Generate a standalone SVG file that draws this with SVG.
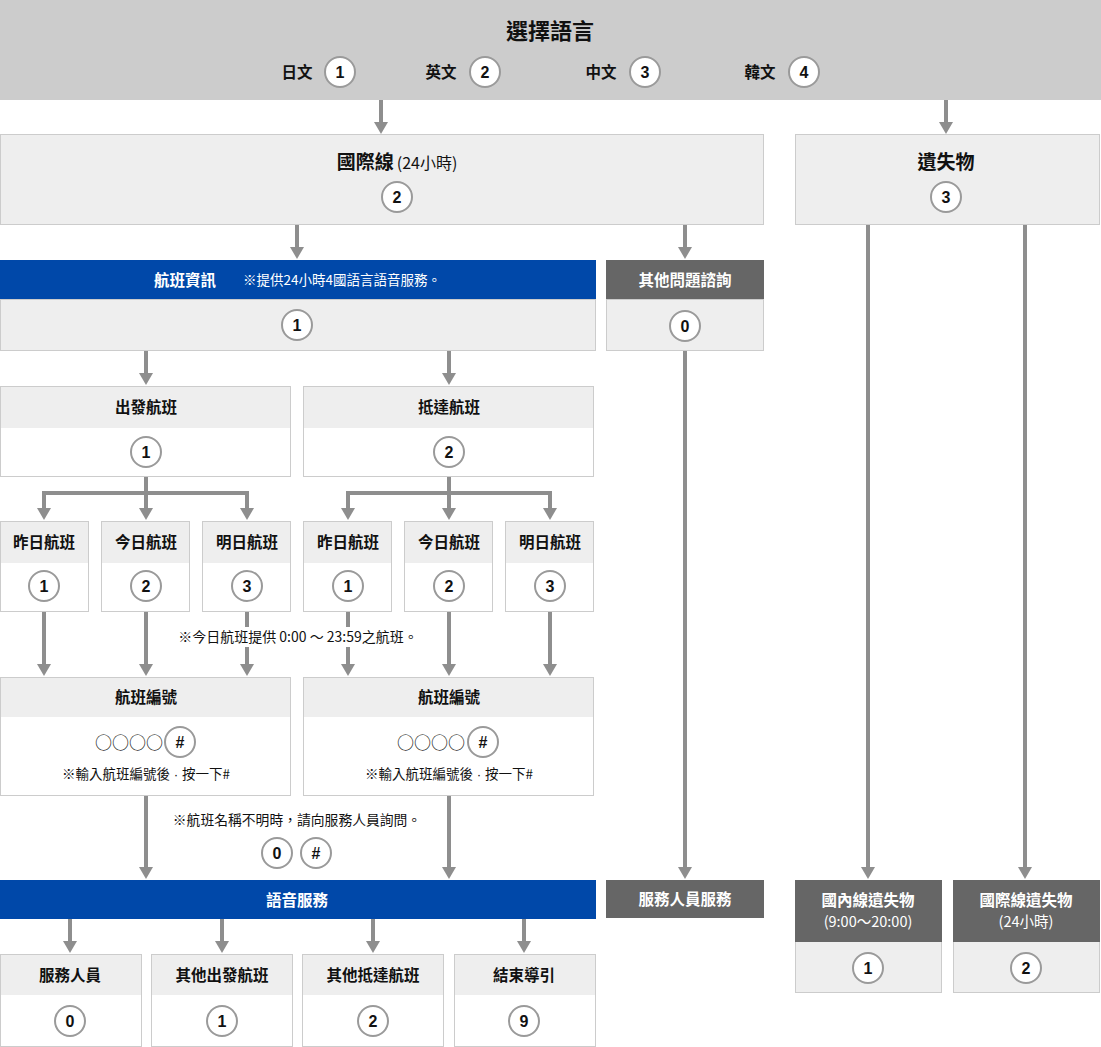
<svg xmlns="http://www.w3.org/2000/svg" width="1101" height="1047" viewBox="0 0 1101 1047">
<defs>
<style>
.t{font-family:"Noto Sans CJK TC","Noto Sans CJK SC",sans-serif;fill:#111;text-anchor:middle}
.b{font-weight:700}
.lbl{font-size:15.5px;font-weight:700}
.wt{fill:#fff}
.box{fill:#eeeeee;stroke:#cccccc;stroke-width:1}
.body{fill:#ffffff;stroke:#cccccc;stroke-width:1}
.hd{fill:#eeeeee}
.blue{fill:#0048a9}
.dark{fill:#666666}
.c{fill:#fff;stroke:#9a9a9a;stroke-width:2}
.num{font-family:"Liberation Sans",Arial,sans-serif;font-weight:700;font-size:16px;fill:#111;text-anchor:middle}
.ln{stroke:#8e8e8e;stroke-width:4;fill:none}
.ar{stroke:#8e8e8e;stroke-width:4;fill:none;marker-end:url(#ah)}
.dot{font-family:"Liberation Sans",Arial,sans-serif}
</style>
<marker id="ah" viewBox="0 0 12 14" refX="0" refY="7" markerWidth="12" markerHeight="14" markerUnits="userSpaceOnUse" orient="auto">
<path d="M0,0 L12,7 L0,14 z" fill="#8e8e8e"/>
</marker>
</defs>
<rect width="1101" height="1047" fill="#fff"/>

<g id="connectors">
<line class="ar" x1="381" y1="100" x2="381" y2="122"/>
<line class="ar" x1="946" y1="100" x2="946" y2="122"/>
<line class="ar" x1="297" y1="225" x2="297" y2="247"/>
<line class="ar" x1="685" y1="225" x2="685" y2="247"/>
<line class="ar" x1="146" y1="351" x2="146" y2="373"/>
<line class="ar" x1="449" y1="351" x2="449" y2="373"/>
<line class="ar" x1="685" y1="351" x2="685" y2="867"/>
<line class="ln" x1="146" y1="476" x2="146" y2="493"/>
<line class="ln" x1="42" y1="493" x2="249" y2="493"/>
<line class="ar" x1="44" y1="493" x2="44" y2="508"/>
<line class="ar" x1="146" y1="493" x2="146" y2="508"/>
<line class="ar" x1="247" y1="493" x2="247" y2="508"/>
<line class="ln" x1="449" y1="476" x2="449" y2="493"/>
<line class="ln" x1="346" y1="493" x2="552" y2="493"/>
<line class="ar" x1="348" y1="493" x2="348" y2="508"/>
<line class="ar" x1="449" y1="493" x2="449" y2="508"/>
<line class="ar" x1="550" y1="493" x2="550" y2="508"/>
<line class="ar" x1="44" y1="611" x2="44" y2="664"/>
<line class="ar" x1="146" y1="611" x2="146" y2="664"/>
<line class="ln" x1="247" y1="611" x2="247" y2="627"/>
<line class="ar" x1="247" y1="647" x2="247" y2="664"/>
<line class="ln" x1="348" y1="611" x2="348" y2="627"/>
<line class="ar" x1="348" y1="647" x2="348" y2="664"/>
<line class="ar" x1="449" y1="611" x2="449" y2="664"/>
<line class="ar" x1="550" y1="611" x2="550" y2="664"/>
<line class="ar" x1="146" y1="795" x2="146" y2="867"/>
<line class="ar" x1="449" y1="795" x2="449" y2="867"/>
<line class="ar" x1="70" y1="919" x2="70" y2="941"/>
<line class="ar" x1="222" y1="919" x2="222" y2="941"/>
<line class="ar" x1="373" y1="919" x2="373" y2="941"/>
<line class="ar" x1="524" y1="919" x2="524" y2="941"/>
<line class="ar" x1="868" y1="225" x2="868" y2="867"/>
<line class="ar" x1="1025" y1="225" x2="1025" y2="867"/>
</g>

<g id="select-language">
<rect x="0" y="0" width="1101" height="100" fill="#cccccc"/>
<text class="t b" x="550" y="39" font-size="22">選擇語言</text>
<text class="t lbl" x="297" y="78">日文</text>
<circle class="c" cx="340" cy="72" r="15"/><text class="num" x="340" y="78">1</text>
<text class="t lbl" x="441" y="78">英文</text>
<circle class="c" cx="485" cy="72" r="15"/><text class="num" x="485" y="78">2</text>
<text class="t lbl" x="601" y="78">中文</text>
<circle class="c" cx="645" cy="72" r="15"/><text class="num" x="645" y="78">3</text>
<text class="t lbl" x="760" y="78">韓文</text>
<circle class="c" cx="804" cy="72" r="15"/><text class="num" x="804" y="78">4</text>
</g>

<g id="international">
<rect class="box" x="0.5" y="134.5" width="763" height="90"/>
<text class="t" x="397" y="169"><tspan class="b" font-size="19">國際線</tspan><tspan font-size="16" dx="3">(24小時)</tspan></text>
<circle class="c" cx="397" cy="197" r="15"/><text class="num" x="397" y="203">2</text>
</g>

<g id="lost-found">
<rect class="box" x="795.5" y="134.5" width="304" height="90"/>
<text class="t b" x="946" y="169" font-size="19">遺失物</text>
<circle class="c" cx="946" cy="197" r="15"/><text class="num" x="946" y="203">3</text>
</g>

<g id="flight-info">
<rect class="blue" x="0" y="260" width="596" height="39"/>
<text class="t lbl wt" x="185" y="286">航班資訊</text>
<text class="t wt" x="342" y="285" font-size="13.5">※提供24小時4國語言語音服務。</text>
<rect class="box" x="0.5" y="299.5" width="595" height="51"/>
<circle class="c" cx="297" cy="325" r="15"/><text class="num" x="297" y="331">1</text>
</g>

<g id="other-inquiry">
<rect class="dark" x="606" y="260" width="158" height="39"/>
<text class="t lbl wt" x="685" y="286">其他問題諮詢</text>
<rect class="box" x="606.5" y="299.5" width="157" height="51"/>
<circle class="c" cx="685" cy="326" r="15"/><text class="num" x="685" y="332">0</text>
</g>

<g id="departure">
<rect class="body" x="0.5" y="386.5" width="290" height="90"/>
<rect class="hd" x="1" y="387" width="289" height="41"/>
<text class="t lbl" x="146" y="413" font-size="16">出發航班</text>
<circle class="c" cx="146" cy="452" r="15"/><text class="num" x="146" y="458">1</text>
</g>

<g id="arrival">
<rect class="body" x="303.5" y="386.5" width="290" height="90"/>
<rect class="hd" x="304" y="387" width="289" height="41"/>
<text class="t lbl" x="449" y="413">抵達航班</text>
<circle class="c" cx="449" cy="452" r="15"/><text class="num" x="449" y="458">2</text>
</g>

<g id="dep-yesterday">
<rect class="body" x="0.5" y="521.5" width="88" height="90"/>
<rect class="hd" x="1" y="522" width="87" height="41"/>
<text class="t lbl" x="44" y="548">昨日航班</text>
<circle class="c" cx="44" cy="586" r="15"/><text class="num" x="44" y="592">1</text>
</g>
<g id="dep-today">
<rect class="body" x="101.5" y="521.5" width="88" height="90"/>
<rect class="hd" x="102" y="522" width="87" height="41"/>
<text class="t lbl" x="146" y="548">今日航班</text>
<circle class="c" cx="146" cy="586" r="15"/><text class="num" x="146" y="592">2</text>
</g>
<g id="dep-tomorrow">
<rect class="body" x="202.5" y="521.5" width="88" height="90"/>
<rect class="hd" x="203" y="522" width="87" height="41"/>
<text class="t lbl" x="247" y="548">明日航班</text>
<circle class="c" cx="247" cy="586" r="15"/><text class="num" x="247" y="592">3</text>
</g>
<g id="arr-yesterday">
<rect class="body" x="303.5" y="521.5" width="88" height="90"/>
<rect class="hd" x="304" y="522" width="87" height="41"/>
<text class="t lbl" x="348" y="548">昨日航班</text>
<circle class="c" cx="348" cy="586" r="15"/><text class="num" x="348" y="592">1</text>
</g>
<g id="arr-today">
<rect class="body" x="404.5" y="521.5" width="88" height="90"/>
<rect class="hd" x="405" y="522" width="87" height="41"/>
<text class="t lbl" x="449" y="548">今日航班</text>
<circle class="c" cx="449" cy="586" r="15"/><text class="num" x="449" y="592">2</text>
</g>
<g id="arr-tomorrow">
<rect class="body" x="505.5" y="521.5" width="88" height="90"/>
<rect class="hd" x="506" y="522" width="87" height="41"/>
<text class="t lbl" x="550" y="548">明日航班</text>
<circle class="c" cx="550" cy="586" r="15"/><text class="num" x="550" y="592">3</text>
</g>

<g id="note-today">
<text class="t" x="298" y="642" font-size="14">※今日航班提供 0:00 ～ 23:59之航班。</text>
</g>

<g id="dep-flightno">
<rect class="body" x="0.5" y="677.5" width="290" height="118"/>
<rect class="hd" x="1" y="678" width="289" height="39"/>
<text class="t lbl" x="146" y="703">航班編號</text>
<text class="t" x="129" y="749" font-size="17">○○○○</text>
<circle class="c" cx="180" cy="742" r="15"/><text class="num" x="180" y="748">#</text>
<text class="t" x="146" y="779" font-size="13.5">※輸入航班編號後<tspan class="dot"> · </tspan>按一下#</text>
</g>

<g id="arr-flightno">
<rect class="body" x="303.5" y="677.5" width="290" height="118"/>
<rect class="hd" x="304" y="678" width="289" height="39"/>
<text class="t lbl" x="449" y="703">航班編號</text>
<text class="t" x="431" y="749" font-size="17">○○○○</text>
<circle class="c" cx="483" cy="742" r="15"/><text class="num" x="483" y="748">#</text>
<text class="t" x="449" y="779" font-size="13.5">※輸入航班編號後<tspan class="dot"> · </tspan>按一下#</text>
</g>

<g id="note-unknown">
<text class="t" x="297" y="825" font-size="13.8">※航班名稱不明時，請向服務人員詢問。</text>
<circle class="c" cx="277" cy="853" r="15"/><text class="num" x="277" y="859">0</text>
<circle class="c" cx="316" cy="853" r="15"/><text class="num" x="316" y="859">#</text>
</g>

<g id="voice-service">
<rect class="blue" x="0" y="880" width="596" height="39"/>
<text class="t lbl wt" x="297" y="906">語音服務</text>
</g>

<g id="staff-service">
<rect class="dark" x="606" y="880" width="158" height="38"/>
<text class="t lbl wt" x="685" y="905">服務人員服務</text>
</g>

<g id="staff">
<rect class="body" x="0.5" y="954.5" width="141" height="92"/>
<rect class="hd" x="1" y="955" width="140" height="40"/>
<text class="t lbl" x="70" y="981">服務人員</text>
<circle class="c" cx="70" cy="1021" r="15"/><text class="num" x="70" y="1027">0</text>
</g>
<g id="other-departure">
<rect class="body" x="151.5" y="954.5" width="141" height="92"/>
<rect class="hd" x="152" y="955" width="140" height="40"/>
<text class="t lbl" x="222" y="981">其他出發航班</text>
<circle class="c" cx="222" cy="1021" r="15"/><text class="num" x="222" y="1027">1</text>
</g>
<g id="other-arrival">
<rect class="body" x="302.5" y="954.5" width="141" height="92"/>
<rect class="hd" x="303" y="955" width="140" height="40"/>
<text class="t lbl" x="373" y="981">其他抵達航班</text>
<circle class="c" cx="373" cy="1021" r="15"/><text class="num" x="373" y="1027">2</text>
</g>
<g id="end-guide">
<rect class="body" x="454.5" y="954.5" width="141" height="92"/>
<rect class="hd" x="455" y="955" width="140" height="40"/>
<text class="t lbl" x="524" y="981">結束導引</text>
<circle class="c" cx="524" cy="1021" r="15"/><text class="num" x="524" y="1027">9</text>
</g>

<g id="domestic-lost">
<rect class="box" x="795.5" y="941.5" width="146" height="51"/>
<rect class="dark" x="795" y="880" width="147" height="62"/>
<text class="t lbl wt" x="868" y="906">國內線遺失物</text>
<text class="t wt" x="868" y="927" font-size="14.5">(9:00～20:00)</text>
<circle class="c" cx="868" cy="968" r="15"/><text class="num" x="868" y="974">1</text>
</g>
<g id="international-lost">
<rect class="box" x="953.5" y="941.5" width="146" height="51"/>
<rect class="dark" x="953" y="880" width="147" height="62"/>
<text class="t lbl wt" x="1026" y="906">國際線遺失物</text>
<text class="t wt" x="1026" y="927" font-size="14.5">(24小時)</text>
<circle class="c" cx="1026" cy="968" r="15"/><text class="num" x="1026" y="974">2</text>
</g>
</svg>
